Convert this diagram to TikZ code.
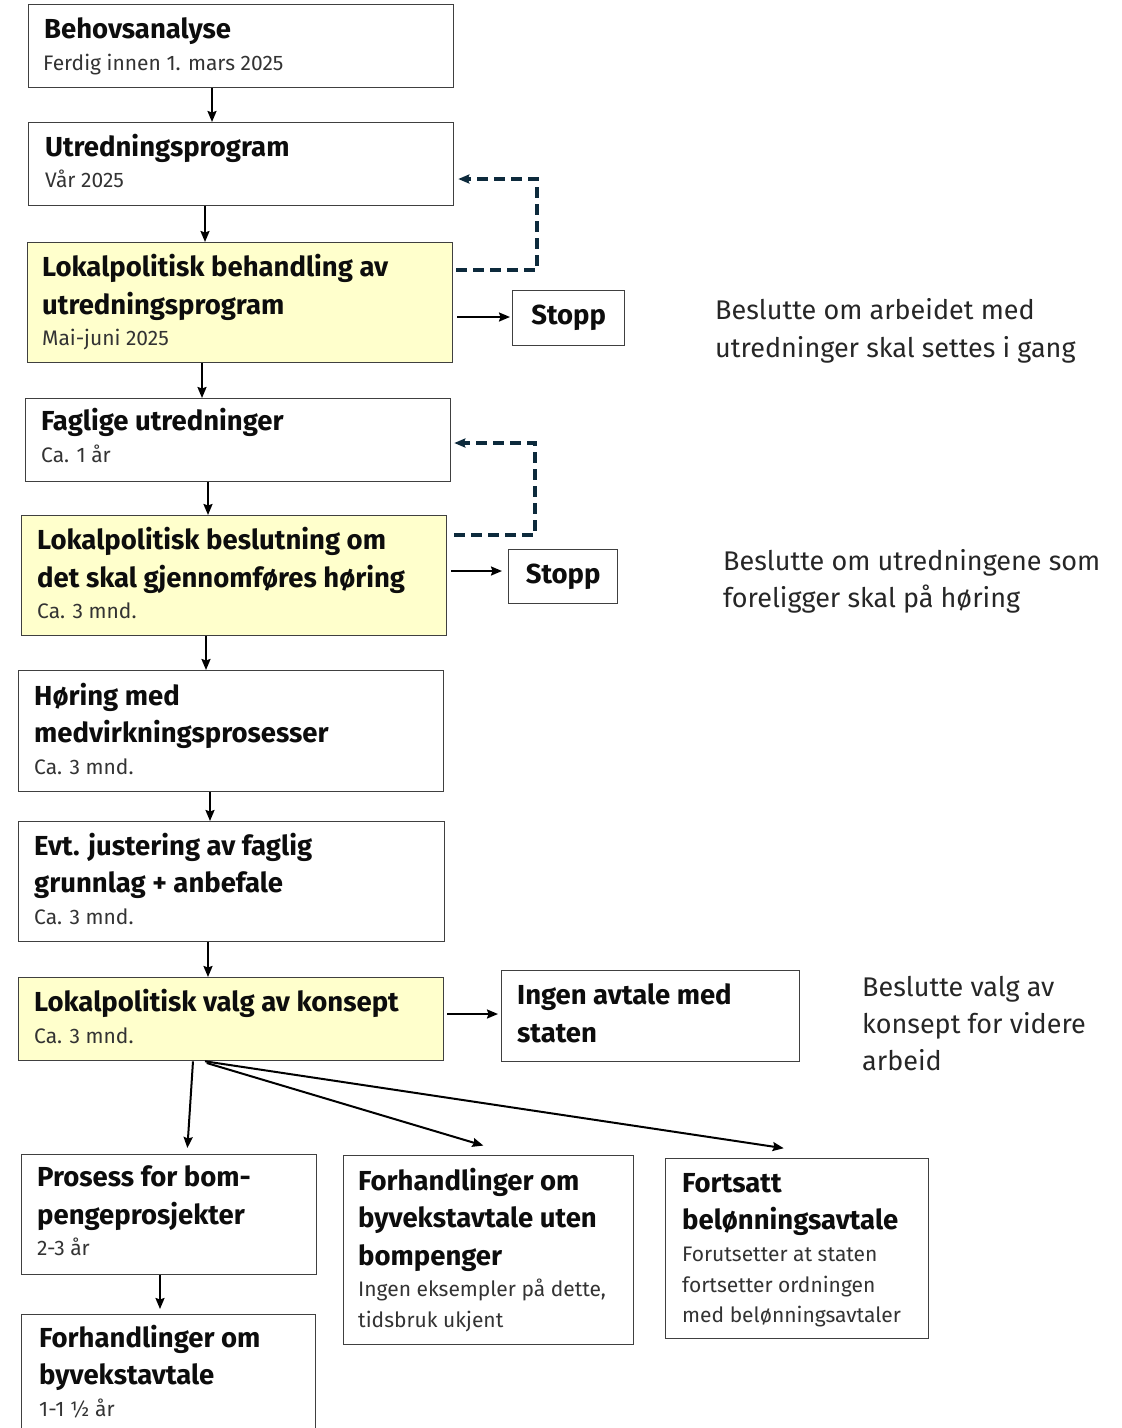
\documentclass[tikz,border=0pt]{standalone}
\usepackage{fontspec}
\setmainfont{Fira Sans}
\usetikzlibrary{arrows.meta}
\definecolor{boxline}{HTML}{404040}
\definecolor{yel}{HTML}{FFFFCC}
\definecolor{navy}{HTML}{0D2A3C}
\definecolor{subc}{HTML}{333333}
\tikzset{
  box/.style={draw=boxline, line width=1.3pt, fill=white, rectangle, anchor=north west, inner sep=0pt},
  ybox/.style={box, fill=yel},
  ttl/.style={anchor=base west, inner sep=0pt, font=\fontsize{27.5}{32}\selectfont\bfseries, text=black!95},
  sub/.style={anchor=base west, inner sep=0pt, font=\fontsize{21}{25}\selectfont, text=subc},
  note/.style={anchor=base west, inner sep=0pt, font=\fontsize{27}{32}\selectfont, text=black!85},
  arr/.style={line width=2pt, -{Stealth[length=11pt,width=9pt,inset=1.5pt]}},
  dsh/.style={line width=3.2pt, navy, dash pattern=on 11pt off 6pt, -{Stealth[length=11pt,width=9pt,inset=1.5pt]}},
}
\begin{document}
\begin{tikzpicture}[x=1pt,y=-1pt]
\useasboundingbox (0,0) rectangle (1122,1428);
% boxes
\node[box, minimum width=425, minimum height=83] (b1) at (28,4) {};
\node[box, minimum width=425, minimum height=83] (b2) at (28,122) {};
\node[ybox, minimum width=425, minimum height=120] (b3) at (27,242) {};
\node[box, minimum width=112, minimum height=55] (s1) at (512,290) {};
\node[box, minimum width=425, minimum height=83] (b5) at (25,398) {};
\node[ybox, minimum width=425, minimum height=120] (b6) at (21,515) {};
\node[box, minimum width=109, minimum height=54] (s2) at (508,549) {};
\node[box, minimum width=425, minimum height=121] (b8) at (18,670) {};
\node[box, minimum width=426, minimum height=120] (b9) at (18,821) {};
\node[ybox, minimum width=425, minimum height=83] (b10) at (18,977) {};
\node[box, minimum width=298, minimum height=91] (b11) at (501,970) {};
\node[box, minimum width=295, minimum height=120] (b12) at (21,1154) {};
\node[box, minimum width=294, minimum height=130] (b13) at (21,1314) {};
\node[box, minimum width=290, minimum height=189] (b14) at (343,1155) {};
\node[box, minimum width=263, minimum height=180] (b15) at (665,1158) {};

% texts
\node[ttl] (t1a) at (44,38) {Behovsanalyse};
\node[sub] (t1b) at (43,70) {Ferdig innen 1. mars 2025};
\node[ttl] (t2a) at (45,156) {Utredningsprogram};
\node[sub] (t2b) at (45,187) {Vår 2025};
\node[ttl] (t3a) at (42,276) {Lokalpolitisk behandling av};
\node[ttl] (t3b) at (42,314) {utredningsprogram};
\node[sub] (t3c) at (42,345) {Mai-juni 2025};
\node[ttl, anchor=center] (ts1) at (s1.center) {Stopp};
\node[ttl] (t5a) at (41,430) {Faglige utredninger};
\node[sub] (t5b) at (41,462) {Ca. 1 år};
\node[ttl] (t6a) at (37,549) {Lokalpolitisk beslutning om};
\node[ttl] (t6b) at (37,587) {det skal gjennomføres høring};
\node[sub] (t6c) at (37,618) {Ca. 3 mnd.};
\node[ttl, anchor=center] (ts2) at (s2.center) {Stopp};
\node[ttl] (t8a) at (34,705) {Høring med};
\node[ttl] (t8b) at (34,742) {medvirkningsprosesser};
\node[sub] (t8c) at (34,774) {Ca. 3 mnd.};
\node[ttl] (t9a) at (34,855) {Evt. justering av faglig};
\node[ttl] (t9b) at (34,892) {grunnlag + anbefale};
\node[sub] (t9c) at (34,924) {Ca. 3 mnd.};
\node[ttl] (t10a) at (34,1011) {Lokalpolitisk valg av konsept};
\node[sub] (t10b) at (34,1043) {Ca. 3 mnd.};
\node[ttl] (t11a) at (517,1004) {Ingen avtale med};
\node[ttl] (t11b) at (517,1042) {staten};
\node[ttl] (t12a) at (37,1186) {Prosess for bom-};
\node[ttl] (t12b) at (37,1224) {pengeprosjekter};
\node[sub] (t12c) at (37,1255) {2-3 år};
\node[ttl] (t13a) at (39,1347) {Forhandlinger om};
\node[ttl] (t13b) at (39,1384) {byvekstavtale};
\node[sub] (t13c) at (39,1416) {1-1 ½ år};
\node[ttl] (t14a) at (358,1190) {Forhandlinger om};
\node[ttl] (t14b) at (358,1227) {byvekstavtale uten};
\node[ttl] (t14c) at (358,1265) {bompenger};
\node[sub] (t14d) at (358,1296) {Ingen eksempler på dette,};
\node[sub] (t14e) at (358,1327) {tidsbruk ukjent};
\node[ttl] (t15a) at (682,1192) {Fortsatt};
\node[ttl] (t15b) at (682,1229) {belønningsavtale};
\node[sub] (t15c) at (682,1261) {Forutsetter at staten};
\node[sub] (t15d) at (682,1292) {fortsetter ordningen};
\node[sub] (t15e) at (682,1322) {med belønningsavtaler};
% notes
\node[note] (n1a) at (715,319) {Beslutte om arbeidet med};
\node[note] (n1b) at (715,357) {utredninger skal settes i gang};
\node[note] (n2a) at (723,570) {Beslutte om utredningene som};
\node[note] (n2b) at (723,607) {foreligger skal på høring};
\node[note] (n3a) at (862,996) {Beslutte valg av};
\node[note] (n3b) at (862,1033) {konsept for videre};
\node[note] (n3c) at (862,1070) {arbeid};

% vertical arrows
\draw[arr] (212,0 |- b1.south) -- (212,0 |- b2.north);
\draw[arr] (205,0 |- b2.south) -- (205,0 |- b3.north);
\draw[arr] (202,0 |- b3.south) -- (202,0 |- b5.north);
\draw[arr] (208,0 |- b5.south) -- (208,0 |- b6.north);
\draw[arr] (206,0 |- b6.south) -- (206,0 |- b8.north);
\draw[arr] (210,0 |- b8.south) -- (210,0 |- b9.north);
\draw[arr] (208,0 |- b9.south) -- (208,0 |- b10.north);
\draw[arr, shorten >=5pt] (160,0 |- b12.south) -- (160,0 |- b13.north) ;
% horizontal arrows
\draw[arr, shorten <=4pt, shorten >=2pt] (b3.east |- 0,317) -- (s1.west |- 0,317);
\draw[arr, shorten <=4pt, shorten >=6pt] (b6.east |- 0,571) -- (s2.west |- 0,571);
\draw[arr, shorten <=3pt, shorten >=3pt] (b10.east |- 0,1014) -- (b11.west |- 0,1014);
% dashed feedback
\draw[dsh, shorten <=3pt, shorten >=4pt] (b3.east |- 0,270) -- (537,270) |- (b2.east |- 0,179);
\draw[dsh, shorten <=7pt, shorten >=3pt] (b6.east |- 0,535) -- (535,535) |- (b5.east |- 0,443);
% fan arrows
\draw[arr, shorten >=6pt] (193,0 |- b10.south) -- (187,0 |- b12.north);
\draw[arr, shorten <=6pt, shorten >=33pt] (201,0 |- b10.south) -- (515,0 |- b14.north);
\draw[arr, shorten >=66pt] (205,0 |- b10.south) -- (849,0 |- b15.north);
\end{tikzpicture}
\end{document}
